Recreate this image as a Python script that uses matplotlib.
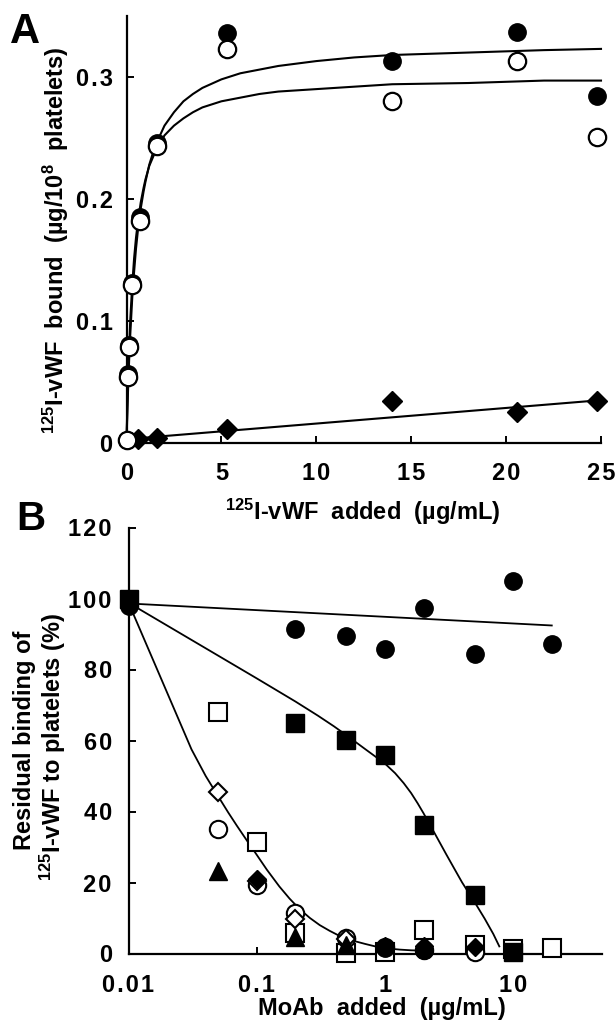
import matplotlib
matplotlib.use("Agg")
import matplotlib.pyplot as plt
from matplotlib.ticker import FixedLocator, FixedFormatter, NullLocator

plt.rcParams['font.family'] = ['Liberation Sans', 'DejaVu Sans']
plt.rcParams['font.weight'] = 'bold'
plt.rcParams['mathtext.fontset'] = 'custom'
plt.rcParams['mathtext.rm'] = 'Liberation Sans:bold'
plt.rcParams['mathtext.bf'] = 'Liberation Sans:bold'
plt.rcParams['mathtext.it'] = 'Liberation Sans:bold'
plt.rcParams['mathtext.default'] = 'bf'

# ---------------- Panel A data ----------------
a_x_circ = [0, 0.1, 0.15, 0.3, 0.7, 1.6, 5.3, 14.0, 20.6, 24.8]
a_filled = [0.002, 0.056, 0.080, 0.131, 0.185, 0.246, 0.336, 0.313, 0.337, 0.284]
a_open = [0.002, 0.054, 0.078, 0.129, 0.182, 0.243, 0.323, 0.280, 0.313, 0.251]
a_x_dia = [0.6, 1.6, 5.3, 14.0, 20.6, 24.8]
a_dia = [0.003, 0.004, 0.011, 0.034, 0.025, 0.034]

a_fit_x = [0, 0.05, 0.1, 0.15, 0.2, 0.3, 0.4, 0.5, 0.6, 0.75, 0.9, 1, 1.2, 1.5, 2, 2.5, 3,
           3.5, 4, 5, 6, 7, 8, 10, 12, 14, 18, 22, 25]
a_fit_filled = [0, 0.028, 0.052, 0.072, 0.089, 0.118, 0.140, 0.159, 0.174, 0.192, 0.206,
                0.214, 0.228, 0.243, 0.260, 0.271, 0.280, 0.286, 0.291, 0.298, 0.303,
                0.306, 0.309, 0.313, 0.316, 0.318, 0.320, 0.322, 0.323]
a_fit_open = [0, 0.034, 0.060, 0.082, 0.101, 0.129, 0.151, 0.168, 0.181, 0.197, 0.209,
              0.216, 0.227, 0.238, 0.252, 0.260, 0.266, 0.271, 0.275, 0.280, 0.283,
              0.286, 0.288, 0.290, 0.292, 0.294, 0.295, 0.297, 0.297]
a_lin_x = [0.6, 24.8]
a_lin_y = [0.0035, 0.0345]

a_xticks = [0, 5, 10, 15, 20, 25]
a_xticklabels = ['0', '5', '10', '15', '20', '25']
a_yticks = [0, 0.1, 0.2, 0.3]
a_yticklabels = ['0', '0.1', '0.2', '0.3']

# ---------------- Panel B data ----------------
b_fc_x = [0.01, 0.2, 0.5, 1, 2, 5, 10, 20]
b_fc_y = [98, 91.5, 89.4, 85.9, 97.4, 84.5, 104.9, 87.3]
b_fs_x = [0.01, 0.2, 0.5, 1, 2, 5, 10]
b_fs_y = [100, 64.8, 60.1, 55.8, 36.1, 16.4, 0.3]
b_os_x = [0.05, 0.1, 0.2, 0.5, 1, 2, 5, 10, 20]
b_os_y = [68, 31.5, 5.8, 0.2, 0.5, 6.5, 2.4, 1.2, 1.6]
b_oc_x = [0.05, 0.1, 0.2, 0.5, 1, 2, 5]
b_oc_y = [35.2, 19.4, 11.5, 4.5, 1.7, 1.0, 0.3]
b_od_x = [0.05, 0.1, 0.2, 0.5]
b_od_y = [45.4, 20.5, 9.6, 4.0]
b_ft_x = [0.05, 0.2, 0.5]
b_ft_y = [23.2, 4.7, 2.5]
b_fd_x = [0.1, 1, 2, 5]
b_fd_y = [21.0, 2.2, 2.0, 1.7]
b_fc2_x = [1, 2]
b_fc2_y = [1.6, 1.1]

b_line_fc_x = [0.01, 20]
b_line_fc_y = [98.6, 92.4]
b_curve_fs_x = [0.01, 0.1, 0.2, 0.3, 0.4, 0.5, 0.7, 1.0, 1.2, 1.4, 1.6, 1.8, 2.0, 2.5,
                3.0, 3.5, 4.0, 5.0, 6.0, 7.0, 7.8]
b_curve_fs_y = [98.8, 77.5, 71.0, 67.0, 64.0, 61.5, 57.6, 53.5, 50.8, 48.0, 45.2, 42.3,
                39.5, 33.2, 28.0, 23.7, 20.0, 14.5, 9.8, 5.5, 2.0]
b_curve_o_x = [0.01, 0.02, 0.031, 0.04, 0.05, 0.06, 0.07, 0.085, 0.1, 0.12, 0.15, 0.18,
               0.216, 0.26, 0.31, 0.37, 0.44, 0.55, 0.7, 0.84, 1.0, 1.3, 1.6, 2.0]
b_curve_o_y = [98.8, 73.5, 57.5, 50.0, 44.3, 39.7, 36.0, 31.5, 27.8, 23.6, 18.9, 15.5,
               12.5, 10.0, 8.0, 6.4, 5.0, 3.7, 2.7, 2.0, 1.5, 1.1, 0.9, 0.8]

b_xticks = [0.01, 0.1, 1, 10]
b_xticklabels = ['0.01', '0.1', '1', '10']
b_yticks = [0, 20, 40, 60, 80, 100, 120]
b_yticklabels = ['0', '20', '40', '60', '80', '100', '120']

HS = '\u200a'


def spaced(s):
    return HS.join(list(s))


W, H = 615, 1027
fig = plt.figure(figsize=(W / 100, H / 100), dpi=100)

FS = 17
MS = 12.5
LW = 1.5


def style(ax):
    for s in ('top', 'right'):
        ax.spines[s].set_visible(False)
    for s in ('left', 'bottom'):
        ax.spines[s].set_linewidth(1.6)
    ax.tick_params(direction='in', length=5, width=1.4)


# ---------------- Panel A ----------------
axA = fig.add_axes([126.5 / W, (H - 442.5) / H, (601 - 126.5) / W, (442.5 - 16) / H])
style(axA)
axA.set_xlim(0, 25)
axA.set_ylim(0, 0.35)
axA.plot(a_fit_x, a_fit_filled, color='black', lw=LW, clip_on=False)
axA.plot(a_fit_x, a_fit_open, color='black', lw=LW, clip_on=False)
axA.plot(a_lin_x, a_lin_y, color='black', lw=LW, clip_on=False)
axA.plot(a_x_circ, a_filled, 'o', ms=MS, mfc='black', mec='black', clip_on=False, zorder=3)
axA.plot(a_x_circ, a_open, 'o', ms=MS, mfc='white', mec='black', mew=1.6, clip_on=False, zorder=4)
axA.plot(a_x_dia, a_dia, 'D', ms=10, mfc='black', mec='black', clip_on=False, zorder=3)
axA.xaxis.set_major_locator(FixedLocator(a_xticks))
axA.xaxis.set_major_formatter(FixedFormatter([spaced(t) for t in a_xticklabels]))
axA.yaxis.set_major_locator(FixedLocator(a_yticks))
axA.yaxis.set_major_formatter(FixedFormatter([spaced(t) for t in a_yticklabels]))
axA.tick_params(axis='x', pad=14, labelsize=FS)
axA.tick_params(axis='y', pad=10, labelsize=FS)
fig.text(363 / W, 1 - 512 / H, r'$^{125}$I-vWF  added  (µg/mL)', ha='center', va='center',
         fontsize=FS, fontweight='bold')
fig.text(56 / W, 1 - 240 / H, r'$^{125}$I-vWF  bound  (µg/10$^{8}$  platelets)', ha='center',
         va='center', rotation=90, fontsize=FS, fontweight='bold')
fig.text(10 / W, 1 - 43 / H, 'A', fontsize=30, fontweight='bold', va='baseline', ha='left')

# ---------------- Panel B ----------------
axB = fig.add_axes([128.5 / W, (H - 953.5) / H, (602 - 128.5) / W, (953.5 - 527.5) / H])
style(axB)
axB.set_xscale('log')
axB.set_xlim(0.01, 49.3)
axB.set_ylim(0, 120)
axB.plot(b_line_fc_x, b_line_fc_y, color='black', lw=1.3, clip_on=False)
axB.plot(b_curve_fs_x, b_curve_fs_y, color='black', lw=1.3, clip_on=False)
axB.plot(b_curve_o_x, b_curve_o_y, color='black', lw=1.3, clip_on=False)
kw_open = dict(mfc='white', mec='black', mew=1.5, clip_on=False, ls='none')
kw_fill = dict(mfc='black', mec='black', clip_on=False, ls='none')
axB.plot(b_os_x, b_os_y, 's', ms=MS, zorder=3, **kw_open)
axB.plot(b_oc_x, b_oc_y, 'o', ms=MS, zorder=4, **kw_open)
axB.plot(b_od_x, b_od_y, 'D', ms=9, zorder=5, **kw_open)
axB.plot(b_ft_x, b_ft_y, '^', ms=MS, zorder=6, **kw_fill)
axB.plot(b_fd_x, b_fd_y, 'D', ms=9, zorder=6, **kw_fill)
axB.plot(b_fc2_x, b_fc2_y, 'o', ms=MS, zorder=6, **kw_fill)
axB.plot(b_fc_x, b_fc_y, 'o', ms=MS, zorder=6, **kw_fill)
axB.plot(b_fs_x, b_fs_y, 's', ms=MS, zorder=7, **kw_fill)
axB.xaxis.set_major_locator(FixedLocator(b_xticks))
axB.xaxis.set_major_formatter(FixedFormatter([spaced(t) for t in b_xticklabels]))
axB.xaxis.set_minor_locator(NullLocator())
axB.yaxis.set_major_locator(FixedLocator(b_yticks))
axB.yaxis.set_major_formatter(FixedFormatter([spaced(t) for t in b_yticklabels]))
axB.tick_params(axis='x', pad=15, labelsize=FS)
axB.tick_params(axis='y', pad=12, labelsize=FS)
fig.text(382 / W, 1 - 1008 / H, 'MoAb  added  (µg/mL)', ha='center', va='center',
         fontsize=FS, fontweight='bold')
fig.text(25 / W, 1 - 740 / H, 'Residual binding of', ha='center', va='center', rotation=90,
         fontsize=FS, fontweight='bold')
fig.text(53 / W, 1 - 747 / H, r'$^{125}$I-vWF to platelets (%)', ha='center', va='center',
         rotation=90, fontsize=FS, fontweight='bold')
fig.text(16 / W, 1 - 530 / H, 'B', fontsize=29, fontweight='bold', va='baseline', ha='left')

fig.savefig('out.png', dpi=100)
